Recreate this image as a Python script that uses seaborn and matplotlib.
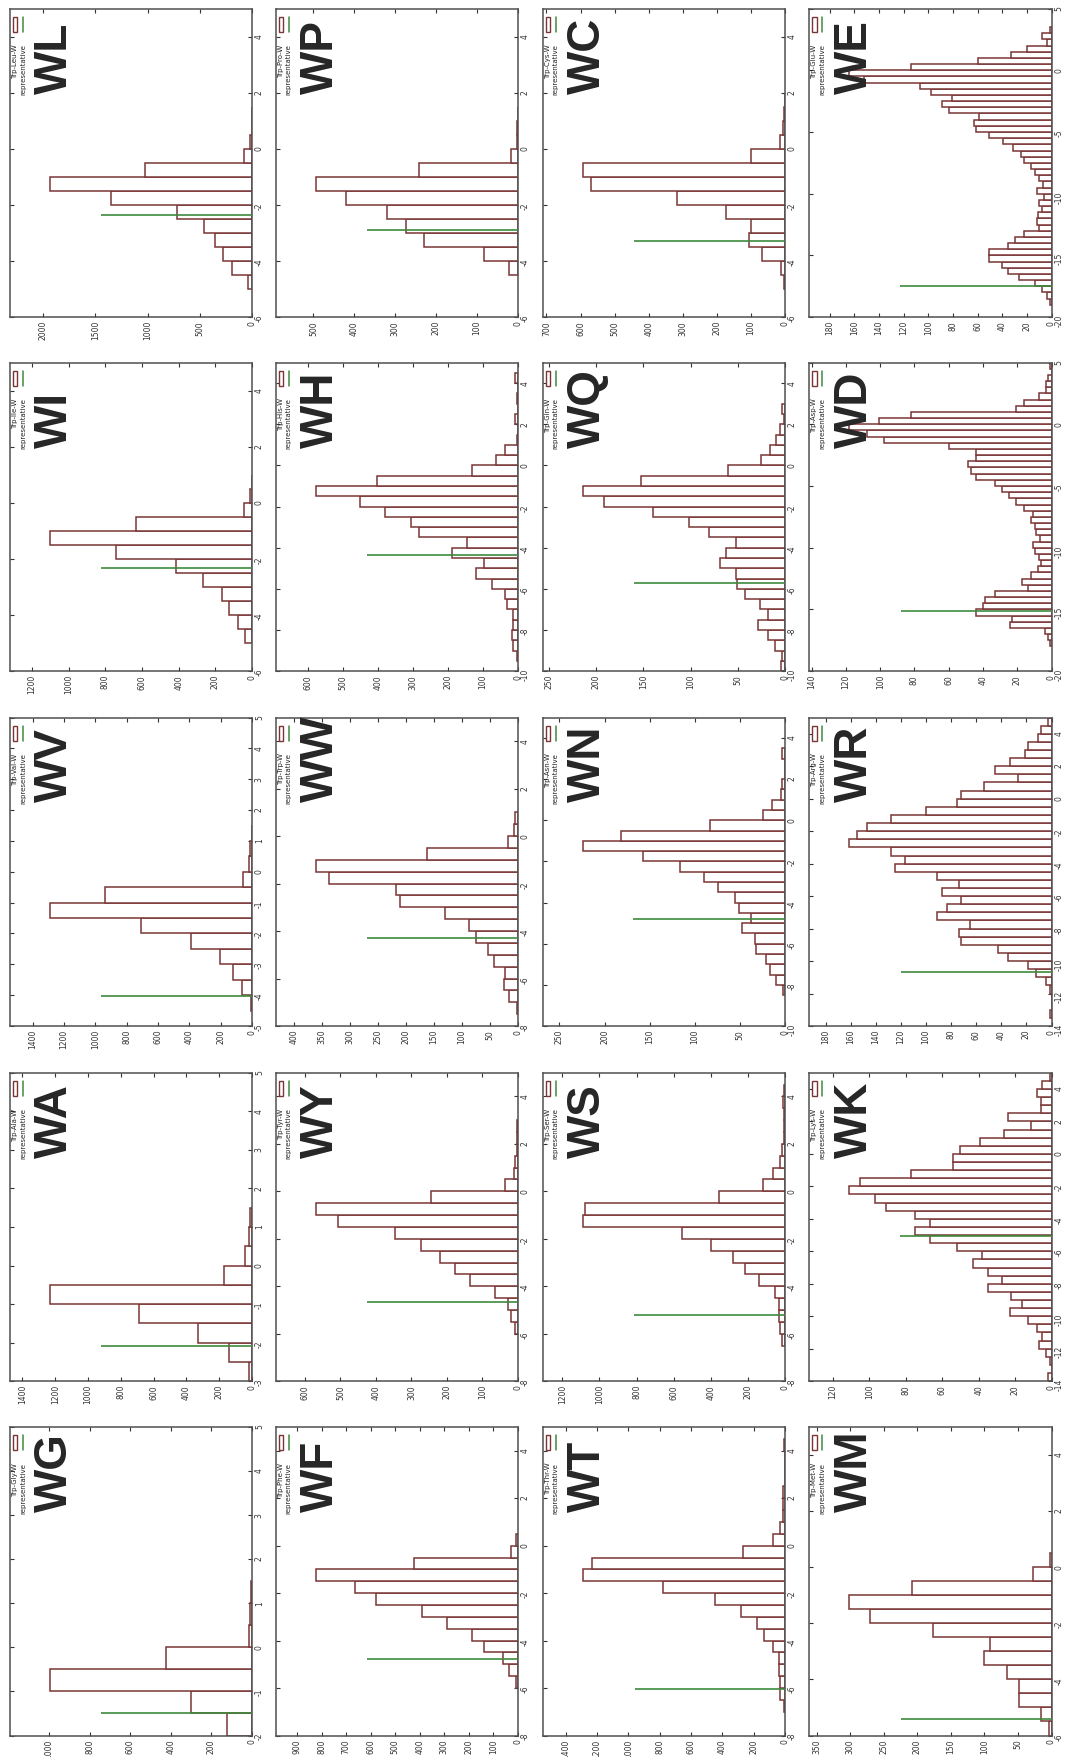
import numpy as np
import pandas as pd
import matplotlib
matplotlib.use("Agg")
import matplotlib.pyplot as plt
from matplotlib.patches import Rectangle
from matplotlib.ticker import MultipleLocator
import seaborn as sns

# Energy histograms of Trp-X-W tripeptides (figure is turned on its side)
# every bin is 0.5 wide, hist_start is the lower edge of the first bin

counts_WL = [42, 193, 278, 353, 458, 716, 1350, 1935, 1029, 75, 23, 5, 2]
counts_WP = [21, 82, 229, 273, 320, 421, 494, 243, 17, 3, 2, 1]
counts_WC = [2, 12, 68, 106, 99, 172, 317, 568, 593, 99, 15, 5, 2, 1]
counts_WE = [1, 4, 8, 13, 26, 35, 40, 51, 51, 35, 30, 22, 10, 12, 11, 8, 10, 6, 12, 7,
             10, 13, 17, 22, 25, 31, 39, 51, 61, 63, 59, 83, 89, 81, 98, 107, 152, 164,
             114, 60, 33, 20, 4, 8, 1]
counts_WI = [37, 78, 127, 164, 265, 417, 742, 1101, 634, 43, 9, 3]
counts_WH = [3, 15, 17, 14, 15, 30, 37, 74, 120, 98, 189, 147, 282, 305, 379, 452, 577,
             403, 131, 63, 36, 3, 0, 8, 0, 3, 0, 8]
counts_WQ = [4, 3, 11, 18, 29, 18, 27, 42, 51, 52, 69, 62, 52, 80, 102, 140, 192, 214,
             152, 60, 25, 16, 10, 5, 1, 3]
counts_WD = [1, 2, 4, 24, 23, 44, 40, 39, 33, 14, 17, 12, 8, 6, 7.5, 9.5, 11, 7, 9, 9.5,
             12, 11, 16, 21, 25, 29, 33, 44, 47, 49, 44, 44, 60, 98, 108, 118, 101, 82,
             21, 16, 7.5, 3, 3, 2, 0, 1]
counts_WV = [7, 66, 121, 204, 391, 708, 1290, 941, 59, 22, 11, 3]
counts_WW = [2, 16, 25, 23, 43, 54, 75, 88, 131, 210, 218, 337, 361, 163, 17, 7, 5]
counts_WN = [2, 10, 17, 21, 32, 33, 48, 38, 51, 55, 74, 90, 116, 157, 224, 182, 83, 24,
             14, 4, 3, 0, 0, 3]
counts_WR = [1.5, 0, 0, 1.4, 4, 12, 19, 35, 43, 72, 74, 65, 91, 83, 72, 87, 74, 91, 125,
             117, 128, 161, 155, 147, 128, 100, 75, 72, 54, 27, 45, 33, 21, 19, 11, 8, 3]
counts_WA = [21, 140, 330, 689, 1232, 173, 46, 21, 10]
counts_WY = [8, 20, 29, 66, 135, 177, 219, 274, 347, 506, 569, 245, 37, 10, 8, 3, 3, 3]
counts_WS = [18, 28, 31, 31, 55, 142, 218, 280, 397, 554, 1089, 1079, 356, 120, 65, 28,
             15, 8, 5, 3, 10, 5]
counts_WK = [2, 0, 1, 3, 7, 5, 8, 13, 23, 16, 22, 35, 27, 35, 43, 38, 52, 67, 75, 67, 75,
             91, 97, 111, 105, 77, 54, 54, 50, 39, 26, 11, 24, 6, 6, 8, 5, 1]
counts_WG = [126, 302, 995, 425, 13, 8, 5]
counts_WF = [10, 38, 60, 139, 188, 289, 390, 579, 662, 823, 423, 28, 7]
counts_WT = [7, 33, 33, 37, 37, 77, 132, 176, 279, 446, 780, 1290, 1231, 270, 77, 33, 15,
             10, 10, 0, 0, 0, 5]
counts_WM = [4, 15, 49, 49, 67, 101, 92, 176, 271, 301, 208, 28, 2]

# panel order as it sits on the page (5 rows x 4 columns)
layout = [["WL", "WP", "WC", "WE"],
          ["WI", "WH", "WQ", "WD"],
          ["WV", "WW", "WN", "WR"],
          ["WA", "WY", "WS", "WK"],
          ["WG", "WF", "WT", "WM"]]

legend_names = {"WL": "Trp-Leu-W", "WP": "Trp-Pro-W", "WC": "Trp-Cys-W", "WE": "Trp-Glu-W",
                "WI": "Trp-Ile-W", "WH": "Trp-His-W", "WQ": "Trp-Gln-W", "WD": "Trp-Asp-W",
                "WV": "Trp-Val-W", "WW": "Trp-Trp-W", "WN": "Trp-Asn-W", "WR": "Trp-Arg-W",
                "WA": "Trp-Ala-W", "WY": "Trp-Tyr-W", "WS": "Trp-Ser-W", "WK": "Trp-Lys-W",
                "WG": "Trp-Gly-W", "WF": "Trp-Phe-W", "WT": "Trp-Thr-W", "WM": "Trp-Met-W"}

hist_start = {"WL": -5.0, "WP": -4.5, "WC": -5.0, "WE": -19.0, "WI": -5.0, "WH": -9.5,
              "WQ": -10.0, "WD": -18.0, "WV": -4.5, "WW": -7.5, "WN": -8.5, "WR": -13.5,
              "WA": -3.0, "WY": -6.0, "WS": -6.5, "WK": -14.0, "WG": -2.0, "WF": -6.0,
              "WT": -7.0, "WM": -6.0}

# energy of the representative structure and height of its marker line
rep_energy = {"WL": -2.35, "WP": -2.89, "WC": -3.27, "WE": -17.5, "WI": -2.32, "WH": -4.37,
              "WQ": -5.7, "WD": -15.1, "WV": -4.04, "WW": -4.29, "WN": -4.82, "WR": -10.7,
              "WA": -2.1, "WY": -4.68, "WS": -5.2, "WK": -5.07, "WG": -1.5, "WF": -4.79,
              "WT": -6.05, "WM": -5.4}
rep_height = {"WL": 1444, "WP": 368, "WC": 442, "WE": 123, "WI": 822, "WH": 430,
              "WQ": 160, "WD": 88, "WV": 963, "WW": 270, "WN": 168, "WR": 120,
              "WA": 919, "WY": 426, "WS": 812, "WK": 83, "WG": 743, "WF": 614,
              "WT": 960, "WM": 224}

# energy axis range and tick steps
energy_range = {"WL": (-6, 5), "WP": (-6, 5), "WC": (-6, 5), "WE": (-20, 5),
                "WI": (-6, 5), "WH": (-10, 5), "WQ": (-10, 5), "WD": (-20, 5),
                "WV": (-5, 5), "WW": (-8, 5), "WN": (-10, 5), "WR": (-14, 5),
                "WA": (-3, 5), "WY": (-8, 5), "WS": (-8, 5), "WK": (-14, 5),
                "WG": (-2, 5), "WF": (-8, 5), "WT": (-8, 5), "WM": (-6, 5)}
energy_step = {"WE": 5, "WD": 5, "WV": 1, "WA": 1, "WG": 1}
count_step = {"WL": 500, "WP": 100, "WC": 100, "WE": 20, "WI": 200, "WH": 100,
              "WQ": 50, "WD": 20, "WV": 200, "WW": 50, "WN": 50, "WR": 20,
              "WA": 200, "WY": 100, "WS": 200, "WK": 20, "WG": 200, "WF": 100,
              "WT": 200, "WM": 50}

BROWN = "#7b3535"
GREEN = "#3d8a3d"
SPINE = "#505050"

sns.set_style("ticks")
plt.rcParams["font.family"] = ["DejaVu Sans"]
plt.rcParams["axes.unicode_minus"] = False

W, H = 1066, 1758
fig = plt.figure(figsize=(W / 100, H / 100), dpi=100)
fig.patch.set_facecolor("white")

col_left = [9.6, 275.5, 542.5, 809.0]
row_top = [9.6, 363.6, 718.5, 1073.7, 1428.0]
panel_w, panel_h = 242.5, 308.5

for r, row in enumerate(layout):
    for c, code in enumerate(row):
        ax = fig.add_axes([col_left[c] / W, 1 - (row_top[r] + panel_h) / H,
                           panel_w / W, panel_h / H])
        n = globals()["counts_" + code]
        lo = hist_start[code]
        centers = lo + 0.25 + 0.5 * np.arange(len(n))
        df = pd.DataFrame({"energy": centers, "n": n})

        sns.histplot(data=df, y="energy", weights="n", binwidth=0.5,
                     binrange=(lo, lo + 0.5 * len(n)), ax=ax,
                     facecolor="white", edgecolor=BROWN, linewidth=1.1, alpha=1)
        ax.hlines(rep_energy[code], 0, rep_height[code], color=GREEN, lw=1.2, zorder=3)

        ax.set_xlim(1.2 * max(n), 0)
        ax.set_ylim(*energy_range[code])
        ax.set_xlabel("")
        ax.set_ylabel("")
        ax.xaxis.set_major_locator(MultipleLocator(count_step[code]))
        ax.yaxis.set_major_locator(MultipleLocator(energy_step.get(code, 2)))
        ax.tick_params(direction="in", length=3, width=0.8, colors="#333333",
                       top=True, bottom=True, left=True, right=True,
                       labelbottom=True, labeltop=False, labelleft=False,
                       labelright=True, labelsize=5.5, labelrotation=90, pad=2)
        for s in ax.spines.values():
            s.set_color(SPINE)
            s.set_linewidth(1.1)

        # key in the corner: sample box / line with the text underneath
        ax.add_patch(Rectangle((0.013, 0.924), 0.019, 0.049, transform=ax.transAxes,
                               facecolor="white", edgecolor=BROWN, lw=1.0))
        ax.plot([0.054, 0.054], [0.924, 0.973], transform=ax.transAxes,
                color=GREEN, lw=1.1)
        ax.text(0.022, 0.887, legend_names[code], transform=ax.transAxes, rotation=90,
                ha="center", va="top", fontsize=5, color="#222222")
        ax.text(0.055, 0.887, "representative", transform=ax.transAxes, rotation=90,
                ha="center", va="top", fontsize=5, color="#222222")

        ax.text(0.238, 0.728, code, transform=ax.transAxes, rotation=90,
                rotation_mode="anchor", ha="left", va="baseline",
                fontsize=33, fontweight="bold",
                family=["Liberation Sans Narrow", "Liberation Sans", "DejaVu Sans"])

fig.savefig("out.png", dpi=100, facecolor="white")
